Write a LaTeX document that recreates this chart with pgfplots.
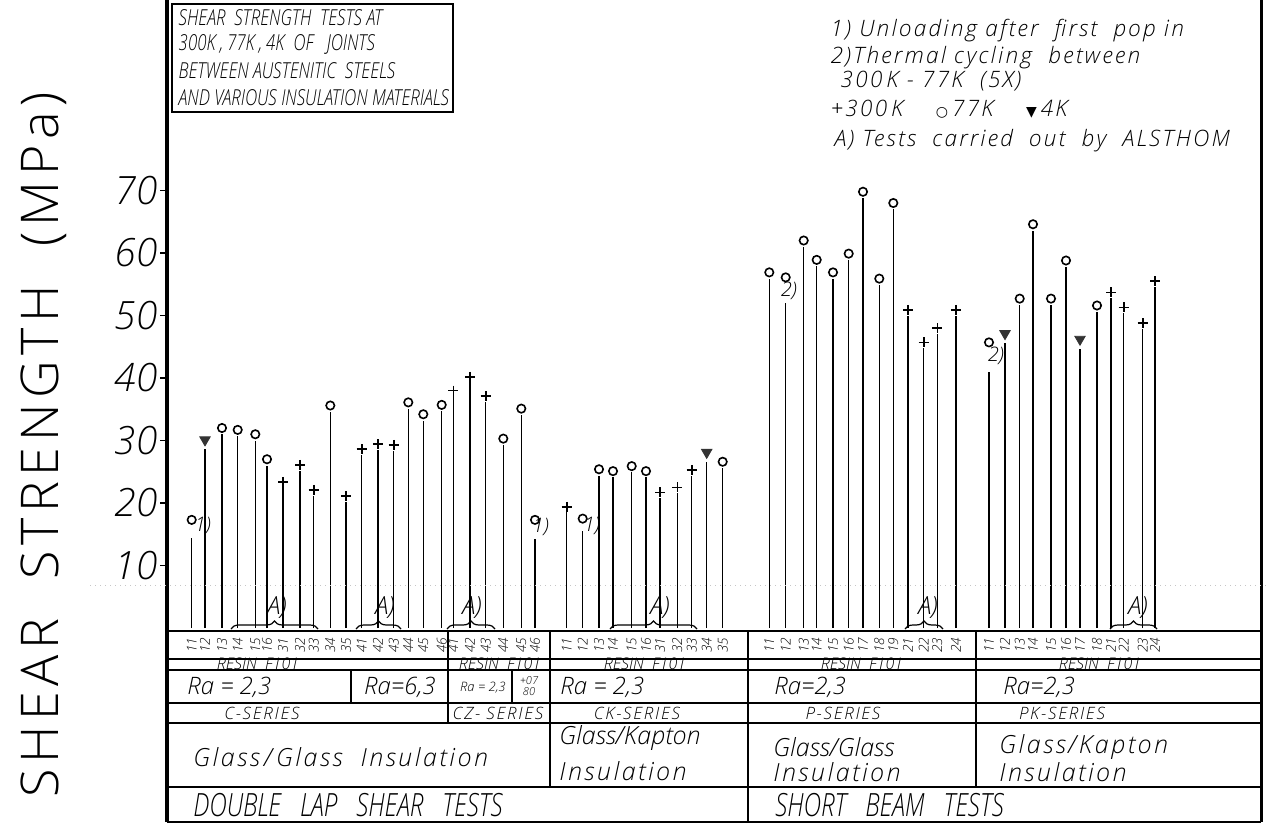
\documentclass[border=0pt]{standalone}
\usepackage{pgfplots}
\pgfplotsset{compat=1.18}
\usepackage{pgfplotstable}
\usepackage{fontspec}
\usetikzlibrary{decorations.pathreplacing}
\newfontfamily\hand{Open Sans}[UprightFont=* Light, ItalicFont=* Light Italic, BoldFont=*]
\newfontfamily\handsp{Open Sans}[UprightFont=* Light, ItalicFont=* Light Italic, BoldFont=*, LetterSpace=10]
\newfontfamily\handlab{Open Sans}[UprightFont=* Light, ItalicFont=* Light Italic, BoldFont=*, LetterSpace=11]
\newfontfamily\handnar{Open Sans}[UprightFont=* Light, ItalicFont=* Light Italic, BoldFont=*, FakeStretch=0.77]
\newfontfamily\handcond{Open Sans}[UprightFont=* Light, ItalicFont=* Light Italic, BoldFont=*, FakeStretch=0.76]
\newfontfamily\sym{DejaVu Sans}
\newcommand\fs[1]{\fontsize{#1}{#1}\selectfont}

% x: position of the specimen along the chart, v: shear strength (MPa), s: top of its stem
% 300 K
\pgfplotstableread{
x      v     s
283    23.4  22.5
300    26.1  25.2
313.7  22.1  21.2
346    21.1  20.2
361.7  28.6  27.7
378    29.4  28.5
393.7  29.3  28.4
453.3  38.0  37.1
470    40.2  39.3
485.7  37.1  36.2
566.7  19.4  18.5
660    21.7  20.8
677.3  22.5  21.6
691.7  25.3  24.4
908    50.9  50.0
923.7  45.7  44.8
937.3  48.0  47.1
956    50.9  50.0
1111   53.7  52.8
1123.7 51.3  50.4
1142.7 48.8  47.9
1155   55.5  54.6
}\warm
% 77 K
\pgfplotstableread{
x      v     s
191.7  17.3  14.4
222    32.0  31.0
237.7  31.7  30.7
255.3  31.0  30.0
267    27.0  26.0
330.3  35.6  34.6
408.3  36.1  35.1
423.3  34.2  33.2
441.7  35.7  34.7
503.3  30.3  29.3
521.3  35.1  34.1
535    17.3  14.3
582.7  17.5  15.5
599    25.4  24.4
613    25.1  24.1
631.7  25.9  24.9
646    25.1  24.1
722.7  26.6  25.6
769.3  56.9  55.9
785.7  56.1  52.0
803.7  62.0  61.0
816.7  58.9  57.9
833    56.9  55.9
848.7  59.9  58.9
863    69.8  68.8
879.3  55.9  54.9
893.3  68.0  67.0
989    45.7  41.0
1019.7 52.7  51.7
1033   64.6  63.6
1051   52.7  51.7
1066   58.8  57.8
1097   51.6  50.6
}\nitrogen
% 4 K
\pgfplotstableread{
x      v     s
205    30.1  28.6
706.7  28.1  26.6
1005   47.1  45.6
1080   46.2  44.7
}\helium

\begin{document}
\begin{tikzpicture}
\useasboundingbox (0pt,0pt) rectangle (633pt,-412.5pt);
\begin{axis}[
  at={(83.5pt,-411pt)}, anchor=south west,
  x=0.5pt, y=3.125pt,
  xmin=167, xmax=1262, ymin=-31.04, ymax=100.48,
  axis x line=none, axis y line=left,
  axis line style={-},
  y axis line style={line width=2pt},
  clip=false,
  ytick={10,20,30,40,50,60,70},
  yticklabels={10,20,30,40,50,60,70},
  tick align=outside, major tick length=3.5pt,
  ytick style={line width=0.9pt, black},
  yticklabel style={font=\hand\itshape\fs{19.5}, inner xsep=1pt},
]
% stems
\addplot[ycomb, no marks, line width=0.6pt] table[x=x, y=s] {\warm};
\addplot[ycomb, no marks, line width=0.6pt] table[x=x, y=s] {\nitrogen};
\addplot[ycomb, no marks, line width=0.6pt] table[x=x, y=s] {\helium};
% measured values
\addplot[only marks, mark=+, mark size=2.5pt, line width=0.8pt] table[x=x, y=v] {\warm};
\addplot[only marks, mark=o, mark size=2.1pt, line width=0.8pt] table[x=x, y=v] {\nitrogen};
\addplot[only marks, mark=triangle*, mark size=3pt, black!80, mark options={rotate=180}] table[x=x, y=v] {\helium};
\end{axis}

\begin{scope}[x=0.5pt, y=-0.5pt, line width=0.7pt]
% frame
\draw[line width=1.5pt] (1261,0) -- (1261,822);
\draw[line width=1pt] (167,822) -- (1261,822);
\draw[gray!45, dotted, line width=0.5pt] (90,585) -- (1266,585);
% table rows
\draw[line width=1.1pt] (167,631) -- (1261,631);
\foreach \y in {659,670,703,723,787} \draw (167,\y) -- (1261,\y);
% table columns
\draw (448,631) -- (448,723);
\draw (351,670) -- (351,703);
\draw (512,670) -- (512,703);
\draw (550,631) -- (550,787);
\draw[line width=1.4pt] (748,631) -- (748,822);
\draw (976,631) -- (976,787);

% specimen numbers
\foreach \x/\n in {191.7/11,205/12,222/13,237.7/14,255.3/15,267/16,283/31,300/32,313.7/33,330.3/34,346/35,361.7/41,378/42,393.7/43,408.3/44,423.3/45,441.7/46,
  453.3/41,470/42,485.7/43,503.3/44,521.3/45,535/46,
  566.7/11,582.7/12,599/13,613/14,631.7/15,646/16,660/31,677.3/32,691.7/33,706.7/34,722.7/35,
  769.3/11,785.7/12,803.7/13,816.7/14,833/15,848.7/16,863/17,879.3/18,893.3/19,908/21,923.7/22,937.3/23,956/24,
  989/11,1005/12,1019.7/13,1033/14,1051/15,1066/16,1080/17,1097/18,1111/21,1123.7/22,1142.7/23,1155/24}
  \node[rotate=90, font=\hand\itshape\fs{6.8}, inner sep=0pt] at (\x,645) {\n};

% resin
\foreach \x in {258,500,645,862,1100}
  \node[anchor=base, font=\hand\itshape\fs{8}, inner sep=0pt] at (\x,669) {RESIN\ \ F101};
% surface roughness
\node[anchor=west, font=\hand\itshape\fs{12}] at (180,687) {Ra = 2,3};
\node[font=\hand\itshape\fs{12}] at (400,687) {Ra=6,3};
\node[font=\hand\itshape\fs{6.5}] at (483,688) {Ra = 2,3};
\node[font=\hand\itshape\fs{5.5}, align=center, inner sep=0pt] at (529,686) {+07\\80};
\node[anchor=west, font=\hand\itshape\fs{12}] at (553,687) {Ra = 2,3};
\node[anchor=west, font=\hand\itshape\fs{12}] at (767,687) {Ra=2,3};
\node[anchor=west, font=\hand\itshape\fs{12}] at (996,687) {Ra=2,3};
% series
\foreach \x/\t in {262/C-SERIES,498/CZ- SERIES,637/CK-SERIES,843/P-SERIES,1062/PK-SERIES}
  \node[font=\handsp\itshape\fs{8.5}] at (\x,713) {\t};
% insulation
\node[anchor=west, font=\handsp\itshape\fs{12.5}] at (186,757) {Glass\,/\,Glass\ \ Insulation};
\node[anchor=west, font=\hand\itshape\fs{12.5}] at (552,738) {Glass/Kapton};
\node[anchor=west, font=\handsp\itshape\fs{12.5}] at (552,771) {Insulation};
\node[anchor=west, font=\hand\itshape\fs{12.5}] at (766,747) {Glass/Glass};
\node[anchor=west, font=\handsp\itshape\fs{12.5}] at (766,772) {Insulation};
\node[anchor=west, font=\handsp\itshape\fs{12.5}] at (992,747) {Glass/Kapton};
\node[anchor=west, font=\handsp\itshape\fs{12.5}] at (992,772) {Insulation};
% test type
\node[anchor=west, font=\handcond\itshape\fs{16}] at (186,805) {DOUBLE\ \ \ LAP\ \ \ SHEAR\ \ \ TESTS};
\node[anchor=west, font=\handcond\itshape\fs{16}] at (768,805) {SHORT\ \ \ BEAM\ \ \ TESTS};

% groups tested by ALSTHOM
\foreach \a/\b/\m in {231/318/277,356/401/385,447/495/472,610/697/660,905/943/928,1110/1157/1138}{
  \draw[decorate, decoration={brace, amplitude=4pt}, line width=0.6pt] (\a,629) -- (\b,629);
  \node[font=\hand\itshape\fs{12.5}] at (\m,608) {A)};
}
% footnote marks
\foreach \x/\y/\t in {203/526/1),541/527/1),592/526/1),789/291/2),996/356/2)}
  \node[font=\hand\itshape\fs{10}, inner sep=0pt] at (\x,\y) {\t};

% y label
\node[rotate=90, font=\handlab\fs{26}] at (44,445) {SHEAR\ \ STRENGTH\ \ (MPa)};

% title box
\draw[line width=0.8pt] (172,4) rectangle (453,112);
\foreach \y/\t in {18/{SHEAR\ \ STRENGTH\ \ TESTS AT},44/{300K\,,\,77K\,,\,4K\ \ OF\ \ \ JOINTS},71/{BETWEEN AUSTENITIC\ \ STEELS},98/{AND VARIOUS INSULATION MATERIALS}}
  \node[anchor=west, font=\handnar\itshape\fs{11}, inner sep=0pt] at (178,\y) {\t};

% notes
\node[anchor=west, font=\handsp\itshape\fs{11.3}, inner sep=0pt] at (830,31) {1) Unloading after\ \ first\ \ pop in};
\node[anchor=west, font=\handsp\itshape\fs{11.3}, inner sep=0pt] at (830,58) {2)Thermal cycling\ \ between};
\node[anchor=west, font=\handsp\itshape\fs{11.3}, inner sep=0pt] at (840,81) {300\,K - 77K\ \ (5X)};
\node[anchor=west, font=\handsp\itshape\fs{11.3}, inner sep=0pt] at (830,109) {+300\,K\ \ \ \ {\sym\fs{7}○}\,77K\ \ \ \ {\sym\fs{7}▼}\,4K};
\node[anchor=west, font=\handsp\itshape\fs{11.3}, inner sep=0pt] at (834,141) {A) Tests\ \ carried\ \ out\ \ by\ \ ALSTHOM};
\end{scope}
\end{tikzpicture}
\end{document}
